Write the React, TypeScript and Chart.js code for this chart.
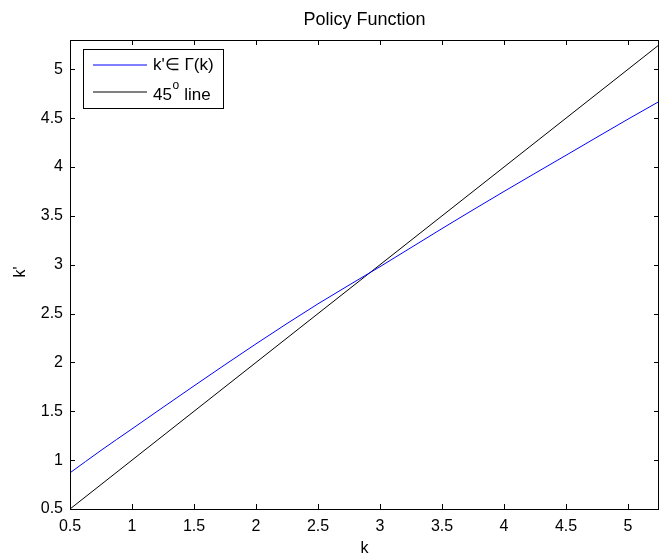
import React, { useEffect, useRef } from "react";
import { Chart, registerables } from "chart.js";

Chart.register(...registerables);

const kGrid = [0.5, 0.75, 1, 1.5, 2, 2.5, 3, 3.5, 4, 4.5, 5, 5.25];
const policy = [0.87, 1.1, 1.32, 1.76, 2.19, 2.6, 2.98, 3.37, 3.75, 4.12, 4.49, 4.67];
const diag = [0.5, 5.25];
const xTicks = [0.5, 1, 1.5, 2, 2.5, 3, 3.5, 4, 4.5, 5];
const yTicks = [0.5, 1, 1.5, 2, 2.5, 3, 3.5, 4, 4.5, 5];
const titleText = "Policy Function";
const xLabel = "k";
const yLabel = "k'";
const legendBlue = "k'\u2208 \u0393(k)";

const FONT = "'Liberation Sans', Arial, Helvetica, sans-serif";

const decorPlugin = {
  id: "decor",
  afterDraw(chart: any) {
    const ctx = chart.ctx;
    const a = chart.chartArea;
    const xs = chart.scales.x;
    const ys = chart.scales.y;
    ctx.save();
    ctx.strokeStyle = "#000";
    ctx.lineWidth = 1;
    // box
    ctx.strokeRect(Math.round(a.left) + 0.5, Math.round(a.top) + 0.5, Math.round(a.right - a.left) - 1, Math.round(a.bottom - a.top));
    // inward ticks
    const tl = 5;
    ctx.beginPath();
    xTicks.forEach((v) => {
      const px = Math.round(xs.getPixelForValue(v)) + 0.5;
      ctx.moveTo(px, a.bottom);
      ctx.lineTo(px, a.bottom - tl);
      ctx.moveTo(px, a.top);
      ctx.lineTo(px, a.top + tl);
    });
    yTicks.forEach((v) => {
      const py = Math.round(ys.getPixelForValue(v)) + 0.5;
      ctx.moveTo(a.left, py);
      ctx.lineTo(a.left + tl, py);
      ctx.moveTo(a.right, py);
      ctx.lineTo(a.right - tl, py);
    });
    ctx.stroke();

    // titles
    ctx.fillStyle = "#000";
    ctx.textAlign = "center";
    ctx.textBaseline = "middle";
    ctx.font = `18px ${FONT}`;
    ctx.fillText(titleText, (a.left + a.right) / 2, 20);
    ctx.font = `16px ${FONT}`;
    ctx.fillText(xLabel, (a.left + a.right) / 2, 549);
    ctx.save();
    ctx.translate(21, 272);
    ctx.rotate(-Math.PI / 2);
    ctx.fillText(yLabel, 0, 0);
    ctx.restore();

    // legend
    const lx = 83, ly = 49, lw = 140, lh = 59;
    ctx.fillStyle = "#ffffff";
    ctx.fillRect(lx, ly, lw, lh);
    ctx.strokeStyle = "#000000";
    ctx.strokeRect(lx + 0.5, ly + 0.5, lw, lh);
    ctx.lineWidth = 1;
    ctx.strokeStyle = "#0000ff";
    ctx.beginPath();
    ctx.moveTo(93, 65);
    ctx.lineTo(147, 65);
    ctx.stroke();
    ctx.strokeStyle = "#000000";
    ctx.beginPath();
    ctx.moveTo(93, 92);
    ctx.lineTo(147, 92);
    ctx.stroke();
    ctx.fillStyle = "#000000";
    ctx.textAlign = "left";
    ctx.font = `17px ${FONT}`;
    ctx.fillText(legendBlue, 153, 65);
    ctx.fillText("45", 153, 95);
    const w45 = ctx.measureText("45").width;
    ctx.font = `12px ${FONT}`;
    ctx.fillText("o", 153 + w45 + 0.5, 86);
    const wo = ctx.measureText("o").width;
    ctx.font = `17px ${FONT}`;
    ctx.fillText(" line", 153 + w45 + wo + 1, 95);
    ctx.restore();
  },
};

export default function App() {
  const ref = useRef<HTMLCanvasElement>(null);
  useEffect(() => {
    if (!ref.current) return;
    const chart = new Chart(ref.current, {
      type: "scatter",
      data: {
        datasets: [
          {
            label: "policy",
            data: kGrid.map((k, i) => ({ x: k, y: policy[i] })),
            showLine: true,
            borderColor: "#0000ff",
            borderWidth: 1,
            pointRadius: 0,
            cubicInterpolationMode: "monotone",
          },
          {
            label: "45",
            data: diag.map((k) => ({ x: k, y: k })),
            showLine: true,
            borderColor: "#000000",
            borderWidth: 1,
            pointRadius: 0,
          },
        ],
      },
      options: {
        responsive: false,
        animation: false,
        layout: { padding: { top: 40, left: 0, right: 0, bottom: 0 } },
        plugins: { legend: { display: false }, title: { display: false }, tooltip: { enabled: false } },
        scales: {
          x: {
            type: "linear",
            min: 0.5,
            max: 5.25,
            border: { display: false },
            grid: { display: false, drawTicks: false },
            afterFit: (s: any) => { s.height = 51; },
            ticks: {
              stepSize: 0.5,
              includeBounds: false,
              padding: 8,
              color: "#000",
              font: { family: FONT, size: 16 },
              maxRotation: 0,
              autoSkip: false,
              callback: (v: any) => String(v),
            },
          },
          y: {
            type: "linear",
            min: 0.5,
            max: 5.3,
            border: { display: false },
            grid: { display: false, drawTicks: false },
            afterFit: (s: any) => { s.width = 70; },
            ticks: {
              stepSize: 0.5,
              includeBounds: false,
              padding: 7,
              color: "#000",
              font: { family: FONT, size: 16 },
              autoSkip: false,
              callback: (v: any) => String(v),
            },
          },
        },
      },
      plugins: [decorPlugin],
    });
    return () => chart.destroy();
  }, []);
  return (
    <div style={{ position: "fixed", left: 0, top: 0, width: 659, height: 560, background: "#fff" }}>
      <canvas ref={ref} width={659} height={560} style={{ width: 659, height: 560, display: "block" }} />
    </div>
  );
}
